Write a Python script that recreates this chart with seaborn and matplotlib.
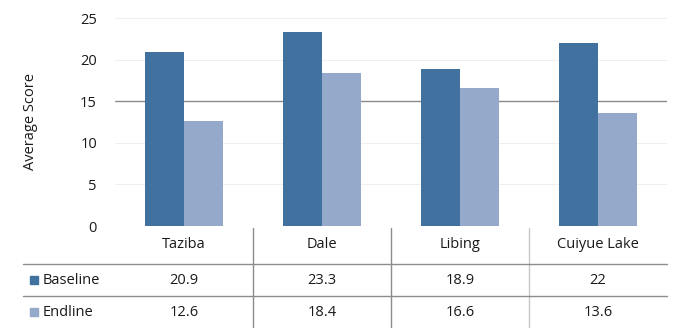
import matplotlib
matplotlib.use("Agg")
import matplotlib.pyplot as plt
import seaborn as sns
import pandas as pd
from matplotlib.lines import Line2D
from matplotlib.patches import Rectangle

categories = ["Taziba", "Dale", "Libing", "Cuiyue Lake"]
baseline = [20.9, 23.3, 18.9, 22]
endline = [12.6, 18.4, 16.6, 13.6]
series_names = ["Baseline", "Endline"]
baseline_labels = ["20.9", "23.3", "18.9", "22"]
endline_labels = ["12.6", "18.4", "16.6", "13.6"]
yticks = [0, 5, 10, 15, 20, 25]

colors = ["#41719F", "#95AACB"]

sns.set_style("white")
plt.rcParams['font.family'] = ['Open Sans', 'DejaVu Sans']
FS = 10.5
TC = "#1a1a1a"

df = pd.DataFrame({
    "cat": categories * 2,
    "val": baseline + endline,
    "series": [series_names[0]] * 4 + [series_names[1]] * 4,
})

W, H = 673, 328
fig = plt.figure(figsize=(W / 100, H / 100), dpi=100)
left, right, top, bottom = 115, 667, 18, 226
ax = fig.add_axes([left / W, 1 - bottom / H, (right - left) / W, (bottom - top) / H])

sns.barplot(data=df, x="cat", y="val", hue="series", palette=colors,
            width=0.57, ax=ax, legend=False, saturation=1, linewidth=0)

ax.set_ylim(0, 25)
ax.set_xlim(-0.5, 3.5)
for y in yticks:
    if y == 15:
        ax.axhline(y, color="#8a8a8a", lw=1.0, zorder=0)
    else:
        ax.axhline(y, color="#efefef", lw=0.8, zorder=0)
ax.set_yticks(yticks)
ax.set_yticklabels([str(v) for v in yticks], fontsize=FS, color=TC)
ax.tick_params(axis="y", length=0, pad=13)
ax.set_xticks([])
ax.set_xlabel("")
ax.set_ylabel("Average Score", fontsize=FS, color=TC)
ax.yaxis.set_label_coords(-0.139, 0.5)
for s in ax.spines.values():
    s.set_visible(False)

# data table below
def fx(px):
    return px / W

def fy(py):
    return 1 - py / H

col_edges = [115, 253, 391, 529, 667]
line_color = "#8c8c8c"
for xe, c in zip(col_edges[1:4], [line_color, line_color, "#c8c8c8"]):
    fig.add_artist(Line2D([fx(xe), fx(xe)], [fy(228), fy(328)], color=c, lw=1.0))
for ye in [264, 296]:
    fig.add_artist(Line2D([fx(23), fx(667)], [fy(ye), fy(ye)], color=line_color, lw=1.0))

row_y = [245, 280, 312]
for i, cat in enumerate(categories):
    cx = (col_edges[i] + col_edges[i + 1]) / 2
    fig.text(fx(cx), fy(row_y[0]), cat, ha="center", va="center", fontsize=FS, color=TC)
    fig.text(fx(cx), fy(row_y[1]), baseline_labels[i], ha="center", va="center", fontsize=FS, color=TC)
    fig.text(fx(cx), fy(row_y[2]), endline_labels[i], ha="center", va="center", fontsize=FS, color=TC)

for name, col, ry in zip(series_names, colors, row_y[1:]):
    fig.add_artist(Rectangle((fx(30), fy(ry + 4)), 8 / W, 8 / H, color=col, transform=fig.transFigure))
    fig.text(fx(43), fy(ry), name, ha="left", va="center", fontsize=FS, color=TC)

fig.savefig("out.png", dpi=100)
